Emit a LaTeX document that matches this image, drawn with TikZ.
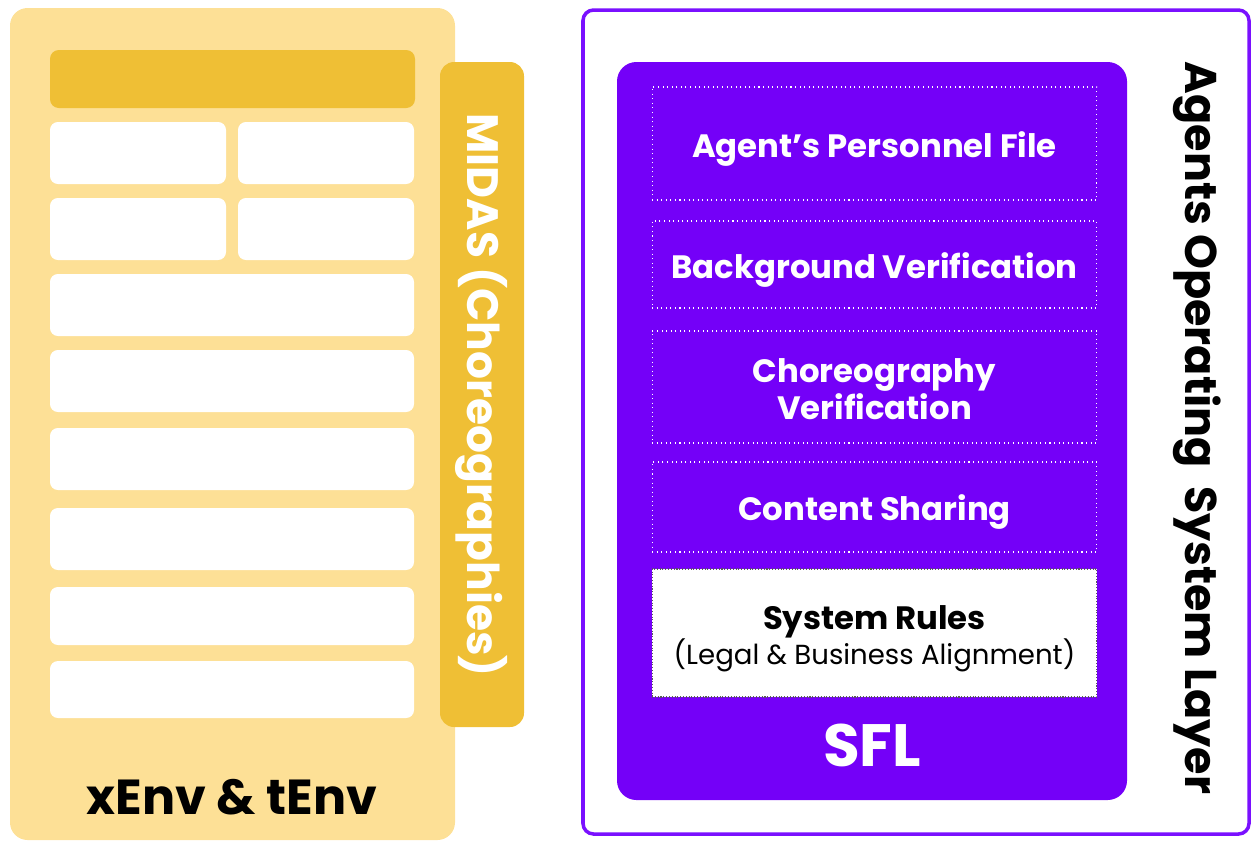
\documentclass[tikz,border=0pt]{standalone}
\usepackage{fontspec}
\setmainfont{Poppins}
\usepackage{tikz}
\usetikzlibrary{positioning}

\definecolor{envlight}{HTML}{FDE096}
\definecolor{envdark}{HTML}{EFBF35}
\definecolor{sflpurple}{HTML}{7400F8}
\definecolor{aoslpurple}{HTML}{7A10FF}

\tikzset{
  cell/.style={fill=white, rounded corners=4.5pt},
  layerbox/.style={draw=white, dotted, line width=0.6pt,
    minimum width=8.9cm, inner sep=0pt},
  rulesbox/.style={layerbox, fill=white, draw=black!65, densely dotted},
  layertext/.style={text=white, align=center, inner sep=0pt,
    font=\fontsize{18.4}{21}\selectfont\bfseries},
}

\begin{document}
\begin{tikzpicture}[x=0.02cm, y=-0.02cm]
		\useasboundingbox (0,0) rectangle (1251,840);

		% xEnv & tEnv
		\fill[envlight, rounded corners=10pt] (10,8) rectangle (455,840);
		\fill[envdark, rounded corners=5pt] (50,50) rectangle (415,108);
		\fill[cell] (50,122) rectangle (226,184);
		\fill[cell] (238,122) rectangle (414,184);
		\fill[cell] (50,198) rectangle (226,260);
		\fill[cell] (238,198) rectangle (414,260);
		\foreach \top/\bot in {274/336, 350/412, 428/490, 508/570, 587/645, 661/718}
			\fill[cell] (50,\top) rectangle (414,\bot);
		\node[font=\fontsize{28}{32}\selectfont\bfseries] (env) at (232,797) {xEnv \& tEnv};

		% MIDAS tab
		\fill[envdark, rounded corners=8pt] (440,62) rectangle (524,727);
		\node[rotate=-90, text=white, font=\fontsize{25}{30}\selectfont\bfseries] (midas) at (482,395) {MIDAS (Choreographies)};

		% agents operating system layer
		\draw[aoslpurple, line width=2pt, rounded corners=6pt] (583,10) rectangle (1249,834);
		\fill[sflpurple, rounded corners=11pt] (617,62) rectangle (1127,800);

		\node[layerbox, minimum height=113*0.02cm] (apf) at (874.5,143.5) {};
		\node[layerbox, minimum height=87*0.02cm] (bgv) at (874.5,264.5) {};
		\node[layerbox, minimum height=112*0.02cm] (chv) at (874.5,387) {};
		\node[layerbox, minimum height=90*0.02cm] (cs) at (874.5,507) {};
		\node[rulesbox, minimum height=128*0.02cm] (rules) at (874.5,633) {};

		\node[layertext] (apftxt) at ([yshift=-3pt]apf) {Agent's Personnel File};
		\node[layertext] (bgvtxt) at ([yshift=-3pt]bgv) {Background Verification};
		\node[layertext] (chvtxt) at ([yshift=-1pt]chv) {Choreography\\Verification};
		\node[layertext] (cstxt) at ([yshift=-3pt]cs) {Content Sharing};
		\node[layertext, text=black] (rulestxt) at ([yshift=-3.5pt]rules) {System Rules\\[-1pt]{\mdseries\fontsize{15.7}{19}\selectfont(Legal \& Business Alignment)}};
		\node[text=white, font=\fontsize{34}{40}\selectfont\bfseries] (sfl) at (872,745) {SFL};

		\node[rotate=-90, font=\fontsize{25.3}{30}\selectfont\bfseries] (aosl) at (1197,428) {Agents Operating~~System Layer};
	\end{tikzpicture}
\end{document}
